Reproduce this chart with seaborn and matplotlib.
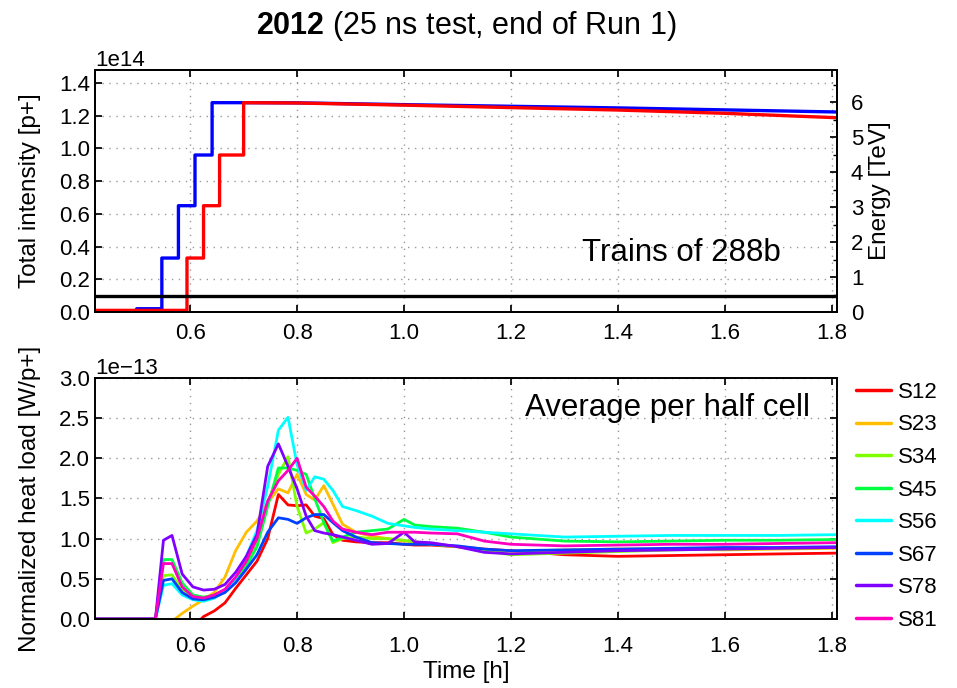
import numpy as np
import pandas as pd
import matplotlib
matplotlib.use("Agg")
import matplotlib.pyplot as plt
import seaborn as sns
from matplotlib.ticker import MultipleLocator

# ---------------- data ----------------
# beam intensities (steps during injection, then slow decay)
b1_step_t = [0.42, 0.50, 0.547, 0.578, 0.609, 0.641]
b1_step_v = [0.0, 0.02, 0.33, 0.65, 0.96, 1.28]
b1_decay_t = [0.70, 0.80, 1.00, 1.20, 1.40, 1.60, 1.81]
b1_decay_v = [1.28, 1.279, 1.268, 1.258, 1.248, 1.236, 1.223]

b2_step_t = [0.42, 0.594, 0.625, 0.655, 0.70]
b2_step_v = [0.01, 0.33, 0.65, 0.96, 1.28]
b2_decay_t = [0.80, 1.00, 1.20, 1.40, 1.60, 1.81]
b2_decay_v = [1.278, 1.265, 1.25, 1.235, 1.215, 1.188]

energy_t = [0.42, 1.81]
energy_v = [0.45, 0.45]

# heat load per half cell [1e-13 W/p+]
time_h = [0.42, 0.535, 0.55, 0.566, 0.585, 0.605, 0.625, 0.645, 0.665, 0.685,
          0.705, 0.725, 0.745, 0.765, 0.783, 0.80, 0.817, 0.833, 0.85, 0.867,
          0.885, 0.91, 0.94, 0.97, 1.0, 1.02, 1.05, 1.1, 1.15, 1.2,
          1.3, 1.4, 1.5, 1.6, 1.7, 1.81]
S12 = [-0.5, -0.5, -0.45, -0.4, -0.3, -0.1, 0.03, 0.10, 0.20, 0.38,
       0.55, 0.72, 1.00, 1.55, 1.42, 1.41, 1.42, 1.28, 1.25, 1.05,
       0.98, 0.96, 0.95, 0.95, 0.93, 0.92, 0.92, 0.90, 0.87, 0.85,
       0.80, 0.78, 0.79, 0.80, 0.81, 0.82]
S23 = [-0.5, -0.3, -0.15, -0.03, 0.07, 0.16, 0.24, 0.33, 0.52, 0.85,
       1.08, 1.22, 1.45, 1.62, 1.57, 1.80, 1.55, 1.48, 1.66, 1.43,
       1.18, 1.08, 1.03, 1.00, 0.97, 0.96, 0.94, 0.90, 0.86, 0.84,
       0.86, 0.87, 0.87, 0.86, 0.87, 0.88]
S34 = [0.0, 0.0, 0.54, 0.55, 0.36, 0.28, 0.27, 0.30, 0.36, 0.50,
       0.68, 0.92, 1.45, 1.80, 2.02, 1.40, 1.07, 1.12, 1.20, 0.95,
       1.00, 1.02, 1.00, 1.00, 0.98, 0.96, 0.93, 0.90, 0.85, 0.80,
       0.82, 0.84, 0.86, 0.87, 0.88, 0.89]
S45 = [0.0, 0.0, 0.74, 0.74, 0.45, 0.30, 0.27, 0.29, 0.35, 0.48,
       0.66, 0.90, 1.40, 1.88, 1.88, 1.85, 1.80, 1.50, 1.20, 0.97,
       1.02, 1.08, 1.10, 1.12, 1.24, 1.17, 1.15, 1.13, 1.08, 1.02,
       0.97, 0.96, 0.97, 0.98, 0.98, 0.99]
S56 = [0.0, 0.0, 0.42, 0.44, 0.30, 0.24, 0.22, 0.26, 0.34, 0.50,
       0.78, 1.10, 1.65, 2.35, 2.51, 1.92, 1.60, 1.77, 1.74, 1.60,
       1.40, 1.35, 1.28, 1.19, 1.16, 1.14, 1.12, 1.10, 1.08, 1.06,
       1.02, 1.03, 1.04, 1.04, 1.04, 1.05]
S67 = [0.0, 0.0, 0.48, 0.50, 0.33, 0.25, 0.24, 0.27, 0.33, 0.45,
       0.62, 0.80, 1.08, 1.26, 1.24, 1.19, 1.26, 1.30, 1.30, 1.20,
       1.10, 1.02, 0.95, 0.94, 0.93, 0.93, 0.93, 0.91, 0.87, 0.85,
       0.86, 0.87, 0.88, 0.89, 0.89, 0.90]
S78 = [0.0, 0.0, 0.98, 1.04, 0.56, 0.40, 0.36, 0.37, 0.43, 0.58,
       0.78, 1.05, 1.90, 2.18, 1.90, 1.62, 1.28, 1.10, 1.07, 1.05,
       1.02, 0.98, 0.93, 0.94, 1.08, 0.96, 0.95, 0.90, 0.83, 0.81,
       0.83, 0.85, 0.86, 0.87, 0.88, 0.89]
S81 = [0.0, 0.0, 0.69, 0.69, 0.40, 0.28, 0.26, 0.30, 0.37, 0.52,
       0.72, 1.00, 1.47, 1.72, 1.85, 2.00, 1.64, 1.53, 1.40, 1.22,
       1.12, 1.08, 1.05, 1.08, 1.08, 1.08, 1.07, 1.06, 0.97, 0.93,
       0.91, 0.92, 0.93, 0.93, 0.94, 0.95]

sectors = ["S12", "S23", "S34", "S45", "S56", "S67", "S78", "S81"]
sector_values = [S12, S23, S34, S45, S56, S67, S78, S81]
sector_colors = ["#ff0000", "#ffbf00", "#80ff00", "#00ff40",
                 "#00ffff", "#0040ff", "#8000ff", "#ff00bf"]

# ---------------- style ----------------
sns.set_theme(style="ticks")
plt.rcParams["font.family"] = ["Liberation Sans", "DejaVu Sans"]
plt.rcParams["mathtext.fontset"] = "custom"
plt.rcParams["mathtext.rm"] = "Liberation Sans"
plt.rcParams["mathtext.bf"] = "Liberation Sans:bold"
for k in ["text.color", "axes.labelcolor", "xtick.color", "ytick.color",
          "axes.edgecolor"]:
    plt.rcParams[k] = "black"
plt.rcParams["axes.linewidth"] = 1.4

TICK_FS = 16
LABEL_FS = 17.5


def step_path(t, v, t_end_t, t_end_v):
    xs, ys = [], []
    for i in range(len(t)):
        if i > 0:
            xs.append(t[i]); ys.append(v[i - 1])
        xs.append(t[i]); ys.append(v[i])
    xs += list(t_end_t); ys += list(t_end_v)
    return np.array(xs), np.array(ys)


fig = plt.figure(figsize=(9.57, 6.88), dpi=100)
ax1 = fig.add_axes([0.0993, 0.5465, 0.7753, 0.3518])
ax2 = fig.add_axes([0.0993, 0.1003, 0.7753, 0.3503])

grid_kw = dict(color="#9a9a9a", linestyle=(0, (1, 4)), linewidth=1.0)

# ---- top panel: intensity ----
x1, y1 = step_path(b1_step_t, b1_step_v, b1_decay_t, b1_decay_v)
x2, y2 = step_path(b2_step_t, b2_step_v, b2_decay_t, b2_decay_v)
sns.lineplot(x=x1, y=y1 * 1e14, sort=False, estimator=None, ax=ax1,
             color="#0000ff", linewidth=2.4)
sns.lineplot(x=x2, y=y2 * 1e14, sort=False, estimator=None, ax=ax1,
             color="#ff0000", linewidth=2.4)
ax1.set_xlim(0.422, 1.81)
ax1.set_ylim(0, 1.48e14)
ax1.yaxis.set_major_locator(MultipleLocator(0.2e14))
ax1.xaxis.set_major_locator(MultipleLocator(0.2))
ax1.grid(True, **grid_kw)
ax1.set_ylabel("Total intensity [p+]", fontsize=LABEL_FS, labelpad=13)
ax1.set_xlabel("")
ax1.tick_params(axis="both", direction="in", labelsize=TICK_FS, length=5,
                top=True, right=False)
ax1.tick_params(axis="x", pad=8)
ax1.yaxis.get_offset_text().set_fontsize(TICK_FS)
ax1.text(0.79, 0.245, "Trains of 288b", transform=ax1.transAxes,
         fontsize=22.5, ha="center", va="center")

ax1e = ax1.twinx()
sns.lineplot(x=energy_t, y=energy_v, ax=ax1e, color="black", linewidth=2.4)
ax1e.set_ylim(0, 6.93)
ax1e.yaxis.set_major_locator(MultipleLocator(1))
ax1e.yaxis.set_minor_locator(MultipleLocator(0.5))
ax1e.tick_params(axis="y", which="both", direction="in", labelsize=TICK_FS,
                 length=5, pad=10)
ax1e.tick_params(axis="y", which="minor", length=3)
ax1e.set_ylabel("Energy [TeV]", fontsize=LABEL_FS, labelpad=4)
ax1e.set_xlim(0.422, 1.81)

# ---- bottom panel: heat load ----
rows = []
for name, vals in zip(sectors, sector_values):
    for t, v in zip(time_h, vals):
        rows.append((t, v * 1e-13, name))
df = pd.DataFrame(rows, columns=["time", "heat", "sector"])
sns.lineplot(data=df, x="time", y="heat", hue="sector", hue_order=sectors,
             palette=dict(zip(sectors, sector_colors)), estimator=None,
             linewidth=2.0, ax=ax2)
ax2.set_xlim(0.422, 1.81)
ax2.set_ylim(0, 3.0e-13)
ax2.yaxis.set_major_locator(MultipleLocator(0.5e-13))
ax2.xaxis.set_major_locator(MultipleLocator(0.2))
ax2.grid(True, **grid_kw)
ax2.set_ylabel("Normalized heat load [W/p+]", fontsize=LABEL_FS, labelpad=13)
ax2.set_xlabel("Time [h]", fontsize=LABEL_FS, labelpad=3)
ax2.tick_params(axis="both", direction="in", labelsize=TICK_FS, length=5,
                top=True, right=True)
ax2.tick_params(axis="x", pad=12)
ax2.yaxis.get_offset_text().set_fontsize(TICK_FS)
ax2.text(0.771, 0.875, "Average per half cell", transform=ax2.transAxes,
         fontsize=22.5, ha="center", va="center")

leg = ax2.legend(loc="upper left", bbox_to_anchor=(0.894, 0.445),
                 bbox_transform=fig.transFigure, frameon=False,
                 fontsize=TICK_FS, handlelength=1.6, handletextpad=0.3,
                 labelspacing=0.52, borderaxespad=0, borderpad=0)
for h in leg.get_lines():
    h.set_linewidth(2.5)

fig.text(0.4875, 0.962,
         r"$\mathbf{2012}$ (25 ns test, end of Run 1)",
         fontsize=22, ha="center", va="center")

fig.savefig("out.png", dpi=100)
